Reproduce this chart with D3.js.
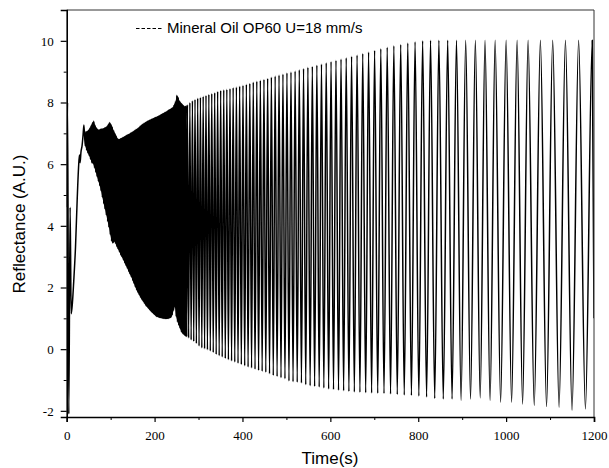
<!DOCTYPE html>
<html>
<head>
<meta charset="utf-8">
<script src="https://cdn.jsdelivr.net/npm/d3@7"></script>
<style>
  body { margin: 0; background: #fff; }
  svg { display: block; }
</style>
</head>
<body>
<svg id="chart" width="609" height="468"></svg>
<script>
// ---- data: reflectance trace (time in s, reflectance in A.U.) ----
const seriesName = "Mineral Oil OP60 U=18 mm/s";

// start-up transient before the fringes settle
const leadIn = [[0,4.6],[2,8.0],[4.8,-2.1],[7.8,4.6],[10.2,1.15],[13,1.5],[16,2.2],[20,3.3],[24,4.9],
  [27,5.9],[29,6.3],[30.5,6.05],[32.5,6.4],[35,6.6],[37,6.9],[39.2,7.27]];

// fast fringes (unresolved band) – maxima and minima
const densePeaks = [[43.7,7.05],[46.7,7.07],[49.7,7.11],[52.7,7.17],[55.7,7.26],[58.7,7.35],[61.7,7.40],[64.7,7.26],[67.7,7.18],[70.7,7.13],
  [73.7,7.12],[76.7,7.14],[79.7,7.15],[82.7,7.16],[85.7,7.18],[88.7,7.20],[91.7,7.23],[94.7,7.30],[97.7,7.36],[100.7,7.30],
  [103.7,7.21],[106.7,7.10],[109.7,7.01],[112.7,6.92],[115.7,6.84],[118.7,6.81],[121.7,6.83],[124.7,6.85],[127.7,6.87],[130.7,6.90],
  [133.7,6.92],[136.7,6.95],[139.7,6.97],[142.7,6.99],[145.7,7.02],[148.7,7.04],[151.7,7.07],[154.7,7.10],[157.7,7.13],[160.7,7.16],
  [163.7,7.19],[166.7,7.23],[169.7,7.27],[172.7,7.30],[175.7,7.33],[178.7,7.36],[181.7,7.38],[184.7,7.41],[187.7,7.43],[190.7,7.45],
  [193.7,7.47],[196.7,7.49],[199.7,7.51],[202.7,7.53],[205.7,7.55],[208.7,7.57],[211.7,7.59],[214.7,7.62],[217.7,7.64],[220.7,7.66],
  [223.7,7.69],[226.7,7.71],[229.7,7.74],[232.7,7.77],[235.7,7.79],[238.7,7.82],[241.7,7.85],[244.7,7.94],[247.7,8.04],[250.7,8.24],
  [253.7,8.17],[256.7,8.06],[259.7,8.00],[262.7,7.95],[265.7,7.91],[268.7,7.87],[271.7,7.90]];

const denseTroughs = [[42.2,6.60],[45.2,6.46],[48.2,6.36],[51.2,6.27],[54.2,6.16],[57.2,6.05],[60.2,6.01],[63.2,5.88],[66.2,5.74],[69.2,5.59],
  [72.2,5.44],[75.2,5.30],[78.2,5.13],[81.2,4.92],[84.2,4.72],[87.2,4.54],[90.2,4.34],[93.2,4.14],[96.2,3.95],[99.2,3.71],
  [102.2,3.50],[105.2,3.43],[108.2,3.49],[111.2,3.42],[114.2,3.32],[117.2,3.23],[120.2,3.14],[123.2,3.05],[126.2,2.97],[129.2,2.88],
  [132.2,2.79],[135.2,2.70],[138.2,2.61],[141.2,2.51],[144.2,2.42],[147.2,2.33],[150.2,2.22],[153.2,2.12],[156.2,2.01],[159.2,1.91],
  [162.2,1.83],[165.2,1.75],[168.2,1.67],[171.2,1.60],[174.2,1.54],[177.2,1.47],[180.2,1.41],[183.2,1.36],[186.2,1.31],[189.2,1.26],
  [192.2,1.21],[195.2,1.17],[198.2,1.13],[201.2,1.09],[204.2,1.05],[207.2,1.04],[210.2,1.02],[213.2,1.01],[216.2,1.00],[219.2,0.99],
  [222.2,0.99],[225.2,0.98],[228.2,0.98],[231.2,0.99],[234.2,1.00],[237.2,1.02],[240.2,1.10],[243.2,1.25],[246.2,1.38],[249.2,1.05],
  [252.2,0.88],[255.2,0.77],[258.2,0.66],[261.2,0.55],[264.2,0.50],[267.2,0.46],[270.2,0.42],[273.2,0.40]];

// resolved fringes – maxima and minima
const fringePeaks = [[274.7,7.93],[280.3,8.00],[286.1,8.06],[292.0,8.10],[298.1,8.14],[304.3,8.17],[310.6,8.20],[317.0,8.23],[323.5,8.26],[330.1,8.29],
  [336.8,8.32],[343.5,8.36],[350.4,8.39],[357.4,8.41],[364.4,8.43],[371.6,8.45],[378.8,8.48],[386.2,8.50],[393.6,8.53],[401.2,8.56],
  [408.9,8.59],[416.7,8.62],[424.6,8.66],[432.6,8.69],[440.7,8.72],[448.9,8.75],[457.3,8.78],[465.8,8.82],[474.4,8.86],[483.2,8.89],
  [492.1,8.92],[501.2,8.96],[510.4,8.99],[519.8,9.02],[529.3,9.06],[539.0,9.10],[548.9,9.14],[559.0,9.17],[569.3,9.21],[579.8,9.25],
  [590.6,9.29],[601.6,9.33],[612.8,9.37],[624.3,9.41],[636.1,9.45],[648.3,9.50],[660.8,9.54],[673.7,9.59],[687.0,9.64],[700.7,9.69],
  [714.8,9.74],[729.4,9.79],[744.5,9.84],[760.1,9.88],[776.2,9.93],[792.8,9.97],[810,10.00],[828,10.02],[847,10.02],[867,10.02],
  [887,10.02],[908,10.02],[930,10.02],[952,10.02],[975,10.02],[1000,10.02],[1025,10.02],[1050,10.02],[1078,10.02],[1106,10.02],
  [1135,10.02],[1165,10.02],[1196,10.02]];

const fringeTroughs = [[277.5,0.36],[283.2,0.30],[289.1,0.25],[295.1,0.18],[301.2,0.10],[307.5,0.04],[313.8,0.01],[320.3,-0.02],[326.8,-0.06],[333.5,-0.11],
  [340.2,-0.17],[347.0,-0.21],[353.9,-0.25],[360.9,-0.30],[368.0,-0.34],[375.2,-0.38],[382.5,-0.42],[389.9,-0.46],[397.4,-0.50],[405.1,-0.54],
  [412.8,-0.58],[420.7,-0.61],[428.6,-0.65],[436.7,-0.69],[444.8,-0.72],[453.1,-0.75],[461.6,-0.80],[470.1,-0.85],[478.8,-0.89],[487.7,-0.93],
  [496.7,-0.96],[505.8,-1.03],[515.1,-1.06],[524.6,-1.07],[534.2,-1.10],[544.0,-1.15],[554.0,-1.19],[564.2,-1.21],[574.6,-1.23],[585.2,-1.26],
  [596.1,-1.29],[607.2,-1.31],[618.6,-1.33],[630.2,-1.35],[642.2,-1.37],[654.6,-1.39],[667.3,-1.40],[680.4,-1.41],[693.9,-1.42],[707.8,-1.43],
  [722.1,-1.44],[737.0,-1.45],[752.3,-1.47],[768.2,-1.49],[784.5,-1.50],[801.4,-1.52],[819,-1.55],[837.5,-1.60],[857,-1.62],[877,-1.62],
  [897.5,-1.66],[919,-1.62],[941,-1.58],[963.5,-1.66],[987.5,-1.72],[1012.5,-1.72],[1037.5,-1.78],[1064,-1.82],[1092,-1.86],[1120.5,-1.88],
  [1150,-1.98],[1180.5,-1.94]];

// last recorded sample
const tail = [[1200,1.0]];

const xTicks = [0,200,400,600,800,1000,1200];
const xMinor = [100,300,500,700,900,1100];
const yTicks = [-2,0,2,4,6,8,10];
const yMinor = [-1,1,3,5,7,9];

// ---- layout ----
const svg = d3.select("#chart");
const x = d3.scaleLinear().domain([0,1200]).range([66.7,594]);
const y = d3.scaleLinear().domain([-2.2,11]).range([417,10]);

const serif = "'Liberation Serif','Times New Roman',serif";
const sans = "'Liberation Sans',Arial,sans-serif";

svg.append("defs").append("clipPath").attr("id","plotClip")
  .append("rect").attr("x",x(0)).attr("y",y(11)).attr("width",x(1200)-x(0)).attr("height",y(-2.2)-y(11));

const plot = svg.append("g").attr("clip-path","url(#plotClip)");

// the fast fringes are unresolved at this scale: their maxima/minima outline a solid band
const bandOutline = densePeaks.concat(denseTroughs.slice().reverse());
plot.append("path")
  .datum(bandOutline)
  .attr("fill","#000")
  .attr("stroke","none")
  .attr("d", d3.line().x(d=>x(d[0])).y(d=>y(d[1])).curve(d3.curveLinearClosed));

// full trace
const trace = [].concat(leadIn, denseTroughs, densePeaks, fringePeaks, fringeTroughs, tail)
  .sort((a,b)=>a[0]-b[0]);

const line = d3.line().x(d=>x(d[0])).y(d=>y(d[1])).curve(d3.curveMonotoneX);

plot.append("path")
  .datum(trace)
  .attr("fill","none")
  .attr("stroke","#000")
  .attr("stroke-width",1.5)
  .attr("stroke-linejoin","round")
  .attr("d",line);

// frame (top & right)
svg.append("path")
  .attr("d",`M${x(0)},${y(11)}H${x(1200)}V${y(-2.2)}`)
  .attr("fill","none").attr("stroke","#333").attr("stroke-width",1);

// axes
const gx = svg.append("g").attr("transform",`translate(0,${y(-2.2)})`)
  .call(d3.axisBottom(x).tickValues(xTicks).tickSize(5).tickPadding(9).tickFormat(d=>String(d)));
const gxm = svg.append("g").attr("transform",`translate(0,${y(-2.2)})`)
  .call(d3.axisBottom(x).tickValues(xMinor).tickSize(3).tickFormat(""));
const gy = svg.append("g").attr("transform",`translate(${x(0)},0)`)
  .call(d3.axisLeft(y).tickValues(yTicks).tickSize(6).tickPadding(7).tickFormat(d=>String(d)));
const gym = svg.append("g").attr("transform",`translate(${x(0)},0)`)
  .call(d3.axisLeft(y).tickValues(yMinor).tickSize(3).tickFormat(""));

gxm.select(".domain").remove();
gym.select(".domain").remove();
[gx,gy].forEach(g=>{
  g.select(".domain").attr("stroke","#000").attr("stroke-width",1.6);
  g.selectAll(".tick line").attr("stroke","#000").attr("stroke-width",1.2);
  g.selectAll(".tick text").attr("font-family",serif).attr("font-size",13).attr("fill","#000");
});
[gxm,gym].forEach(g=>g.selectAll(".tick line").attr("stroke","#000").attr("stroke-width",1));

// axis titles
svg.append("text")
  .attr("x",330).attr("y",464)
  .attr("text-anchor","middle")
  .attr("font-family",sans).attr("font-size",17)
  .text("Time(s)");

svg.append("text")
  .attr("transform","translate(25,224) rotate(-90)")
  .attr("text-anchor","middle")
  .attr("font-family",sans).attr("font-size",17)
  .text("Reflectance (A.U.)");

// legend
const lg = svg.append("g");
lg.append("line")
  .attr("x1",136).attr("x2",162).attr("y1",28.5).attr("y2",28.5)
  .attr("stroke","#000").attr("stroke-width",1).attr("stroke-dasharray","3.5,2");
lg.append("text")
  .attr("x",167).attr("y",33)
  .attr("font-family",sans).attr("font-size",15)
  .text(seriesName);
</script>
</body>
</html>
